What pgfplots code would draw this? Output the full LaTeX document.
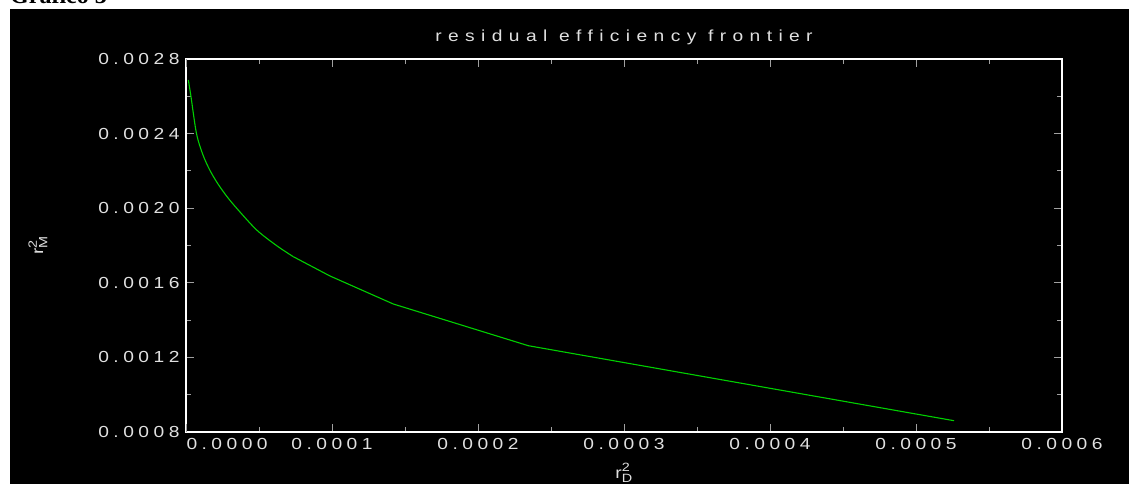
\documentclass[border=0pt]{standalone}
\usepackage{fontspec}
\usepackage{pgfplots}
\pgfplotsset{compat=1.18}
\newfontfamily\plotfont[FakeStretch=1.2, LetterSpace=28]{Liberation Sans}
\newfontfamily\titlefont[FakeStretch=1.2, LetterSpace=40]{Liberation Sans}
\newfontfamily\capfont{Liberation Serif}
\definecolor{lbl}{HTML}{E0E0E0}
\definecolor{curve}{HTML}{00D000}
\definecolor{tickc}{HTML}{A0A0A0}
\newcommand\lblsub[1]{\mbox{\plotfont\fontsize{12}{12}\selectfont #1}}
\begin{document}
\begin{tikzpicture}[x=1pt,y=1pt]
\useasboundingbox (0,0) rectangle (1129,484);
\fill[white] (0,0) rectangle (1129,484);
\fill[black] (10,0) rectangle (1129,475);
\node[anchor=base west, inner sep=0pt, font=\capfont\bfseries\fontsize{24}{24}\selectfont] at (10,480) {Gráfico 3};
\begin{axis}[
  at={(186pt,52pt)}, anchor=south west,
  scale only axis, width=876pt, height=373pt,
  xmin=0, xmax=0.0006, ymin=0.0008, ymax=0.0028,
  xtick={0.0001,0.0002,0.0003,0.0004,0.0005,0.0006},
  extra x ticks={0},
  extra x tick style={xticklabel style={anchor=north west, xshift=-3pt}},
  minor xtick={0.00005,0.00015,0.00025,0.00035,0.00045,0.00055},
  ytick={0.0008,0.0012,0.0016,0.0020,0.0024,0.0028},
  minor ytick={0.0010,0.0014,0.0018,0.0022,0.0026},
  scaled x ticks=false, scaled y ticks=false,
  /pgf/number format/fixed,
  /pgf/number format/fixed zerofill,
  /pgf/number format/precision=4,
  /pgf/number format/assume math mode=true,
  ticklabel style={font=\plotfont\fontsize{16}{16}\selectfont, text=lbl},
  yticklabel style={xshift=-3pt},
  xticklabel style={yshift=-3pt},
  tick align=inside,
  major tick length=8pt, minor tick length=5pt,
  tick style={tickc, line width=1pt},
  axis line style={white, line width=1.5pt},
  title={residual efficiency frontier},
  title style={at={(axis description cs:0.5,1.043)}, anchor=center, font=\titlefont\fontsize{16}{16}\selectfont, text=lbl},
  xlabel={$\mbox{r}^{\lblsub{2}}_{\lblsub{D}}$},
  ylabel={$\mbox{r}^{\lblsub{2}}_{\lblsub{M}}$},
  xlabel style={at={(axis description cs:0.5,-0.11)}, anchor=center, font=\plotfont\fontsize{16}{16}\selectfont, text=lbl},
  ylabel style={at={(axis description cs:-0.169,0.5)}, anchor=center, font=\plotfont\fontsize{16}{16}\selectfont, text=lbl},
]
\addplot[curve, line width=1.1pt, mark=none, smooth, tension=0.5] coordinates {
(0.00000160, 0.0026874)
(0.00000342, 0.0025979)
(0.00000719, 0.0024000)
(0.00001164, 0.0022852)
(0.00001644, 0.0022021)
(0.00002192, 0.0021297)
(0.00002808, 0.0020622)
(0.00003493, 0.0019978)
(0.00004842, 0.0018831)
(0.00006212, 0.0017990)
(0.00007349, 0.0017400)
};
\addplot[curve, line width=1.1pt, mark=none] coordinates {
(0.00007349, 0.0017400)
(0.00009863, 0.0016365)
(0.00014199, 0.0014863)
(0.00023445, 0.0012627)
(0.00052603, 0.0008606)
};
\end{axis}
\end{tikzpicture}
\end{document}
